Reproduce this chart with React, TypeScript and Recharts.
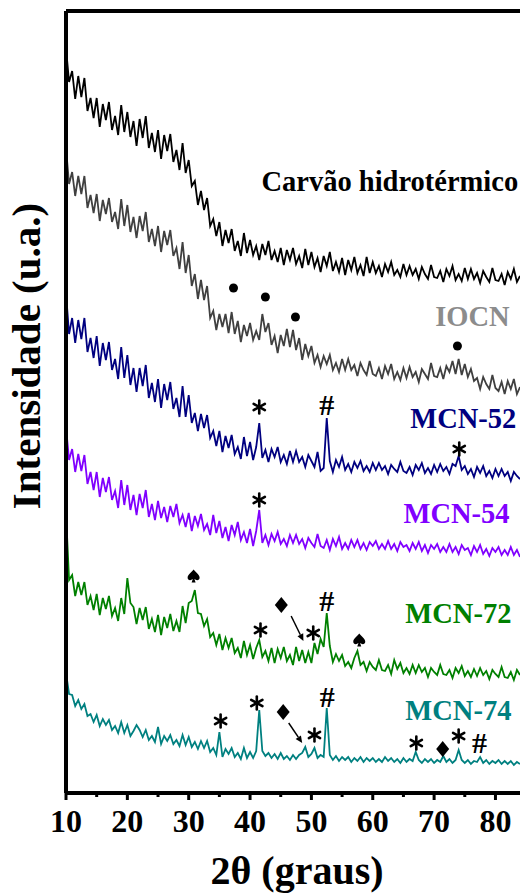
import React from 'react'
import { LineChart, Line, XAxis, YAxis, ReferenceDot, ReferenceLine, Label } from 'recharts'

// 2θ sampling (graus)
const angles = [
  10, 10.5, 11, 11.5, 12, 12.5, 13, 13.5, 14, 14.5,
  15, 15.5, 16, 16.5, 17, 17.5, 18, 18.5, 19, 19.5,
  20, 20.5, 21, 21.5, 22, 22.5, 23, 23.5, 24, 24.5,
  25, 25.5, 26, 26.5, 27, 27.5, 28, 28.5, 29, 29.5,
  30, 30.5, 31, 31.5, 32, 32.5, 33, 33.5, 34, 34.5,
  35, 35.5, 36, 36.5, 37, 37.5, 38, 38.5, 39, 39.5,
  40, 40.5, 41, 41.5, 42, 42.5, 43, 43.5, 44, 44.5,
  45, 45.5, 46, 46.5, 47, 47.5, 48, 48.5, 49, 49.5,
  50, 50.5, 51, 51.5, 52, 52.5, 53, 53.5, 54, 54.5,
  55, 55.5, 56, 56.5, 57, 57.5, 58, 58.5, 59, 59.5,
  60, 60.5, 61, 61.5, 62, 62.5, 63, 63.5, 64, 64.5,
  65, 65.5, 66, 66.5, 67, 67.5, 68, 68.5, 69, 69.5,
  70, 70.5, 71, 71.5, 72, 72.5, 73, 73.5, 74, 74.5,
  75, 75.5, 76, 76.5, 77, 77.5, 78, 78.5, 79, 79.5,
  80, 80.5, 81, 81.5, 82, 82.5, 83, 83.5, 84,
]

// stacked intensities (u.a.)
const carvao = [
  745, 711, 722, 694, 717, 696, 715, 682, 695, 675,
  695, 666, 689, 673, 691, 663, 677, 658, 688, 661,
  681, 656, 672, 647, 674, 655, 677, 645, 660, 641,
  663, 634, 658, 642, 659, 631, 643, 623, 650, 620,
  633, 607, 612, 588, 602, 583, 595, 567, 574, 557,
  571, 547, 563, 550, 564, 542, 552, 537, 560, 540,
  553, 538, 547, 533, 549, 538, 552, 533, 542, 531,
  545, 528, 543, 533, 545, 529, 537, 525, 544, 528,
  541, 526, 535, 521, 537, 527, 541, 522, 531, 521,
  535, 518, 533, 523, 536, 520, 528, 517, 536, 520,
  531, 520, 527, 516, 529, 521, 531, 518, 523, 516,
  529, 518, 527, 518, 524, 514, 526, 519, 514, 528,
  516, 515, 522, 511, 524, 517, 527, 513, 519, 512,
  525, 514, 524, 514, 520, 510, 522, 516, 511, 525,
  513, 512, 519, 508, 521, 514, 524, 511, 517,
]

const iocn = [
  645, 609, 621, 597, 617, 599, 617, 585, 598, 580,
  599, 572, 593, 579, 595, 571, 581, 564, 594, 567,
  588, 561, 576, 555, 577, 562, 581, 551, 564, 547,
  567, 541, 562, 548, 563, 537, 545, 524, 551, 520,
  538, 507, 519, 494, 513, 493, 507, 475, 482, 463,
  479, 466, 479, 460, 481, 459, 472, 451, 468, 457,
  470, 453, 462, 453, 479, 461, 470, 448, 457, 440,
  458, 447, 464, 446, 463, 443, 455, 433, 449, 437,
  447, 430, 438, 426, 437, 429, 438, 423, 430, 421,
  434, 423, 434, 423, 428, 417, 430, 423, 418, 432,
  419, 417, 425, 414, 427, 419, 429, 414, 421, 413,
  425, 415, 426, 416, 421, 411, 424, 419, 414, 430,
  417, 416, 425, 414, 427, 421, 432, 419, 434, 418,
  429, 416, 424, 412, 415, 404, 416, 409, 404, 418,
  405, 402, 411, 399, 412, 404, 414, 399, 406,
]

const mcn52 = [
  500, 459, 475, 450, 473, 454, 475, 441, 455, 435,
  457, 427, 450, 433, 451, 423, 434, 414, 446, 415,
  438, 408, 425, 401, 425, 407, 428, 395, 410, 391,
  414, 385, 409, 393, 411, 384, 395, 376, 407, 376,
  398, 370, 380, 362, 379, 365, 378, 355, 362, 347,
  362, 341, 357, 345, 358, 339, 346, 334, 356, 337,
  351, 333, 346, 370, 335, 343, 331, 344, 336, 346,
  331, 338, 329, 342, 331, 342, 331, 336, 326, 338,
  332, 326, 341, 322, 325, 375, 332, 321, 333, 326,
  336, 323, 329, 321, 331, 325, 332, 322, 327, 321,
  330, 323, 330, 323, 327, 319, 328, 324, 321, 331,
  322, 320, 326, 318, 328, 323, 330, 320, 325, 319,
  328, 321, 329, 322, 326, 319, 329, 327, 337, 323,
  327, 319, 324, 316, 326, 320, 327, 317, 322, 315,
  324, 317, 324, 317, 321, 312, 321, 317, 314,
]

const mcn54 = [
  366, 333, 344, 321, 339, 322, 338, 309, 321, 303,
  321, 296, 315, 301, 316, 293, 302, 285, 313, 288,
  308, 283, 298, 278, 299, 285, 303, 276, 289, 273,
  292, 275, 286, 271, 287, 276, 289, 270, 278, 266,
  280, 262, 277, 267, 279, 263, 269, 258, 278, 260,
  272, 255, 266, 252, 268, 258, 271, 253, 261, 250,
  264, 247, 262, 283, 250, 258, 248, 259, 252, 261,
  249, 254, 247, 258, 250, 258, 249, 254, 245, 255,
  250, 246, 259, 247, 245, 253, 243, 254, 247, 256,
  244, 250, 244, 253, 246, 253, 244, 250, 243, 251,
  247, 252, 244, 249, 244, 252, 244, 249, 242, 251,
  246, 248, 242, 250, 244, 251, 242, 248, 240, 248,
  244, 249, 241, 246, 241, 249, 241, 246, 239, 248,
  243, 245, 238, 247, 241, 248, 239, 244, 237, 245,
  241, 246, 238, 243, 238, 246, 238, 243, 236,
]

const mcn72 = [
  280, 213, 218, 197, 211, 198, 211, 188, 197, 183,
  199, 178, 195, 184, 197, 177, 185, 172, 195, 179,
  215, 190, 186, 169, 185, 173, 186, 164, 174, 161,
  178, 158, 176, 165, 179, 162, 172, 161, 187, 170,
  190, 192, 203, 180, 179, 167, 174, 156, 160, 148,
  159, 143, 155, 145, 155, 140, 145, 135, 152, 138,
  148, 134, 145, 153, 136, 142, 132, 145, 130, 144,
  135, 146, 132, 138, 128, 146, 132, 143, 130, 141,
  130, 150, 139, 154, 146, 180, 147, 131, 139, 132,
  138, 127, 131, 125, 135, 142, 128, 131, 122, 131,
  126, 123, 133, 123, 122, 128, 119, 133, 124, 130,
  120, 125, 119, 128, 120, 128, 121, 125, 116, 125,
  121, 118, 128, 119, 118, 123, 115, 125, 120, 127,
  117, 122, 116, 124, 117, 125, 118, 122, 114, 123,
  119, 116, 126, 116, 115, 121, 113, 123, 118,
]

const mcn74 = [
  120, 99, 98, 87, 93, 84, 89, 77, 79, 71,
  78, 67, 74, 68, 73, 63, 67, 60, 71, 60,
  68, 57, 62, 68, 63, 56, 63, 53, 57, 51,
  66, 49, 57, 52, 58, 49, 53, 47, 58, 48,
  56, 46, 51, 44, 52, 45, 52, 41, 45, 38,
  61, 36, 44, 39, 45, 36, 40, 34, 45, 35,
  41, 35, 42, 83, 42, 37, 40, 35, 39, 34,
  40, 34, 37, 33, 38, 34, 38, 40, 46, 36,
  39, 45, 35, 38, 36, 85, 38, 33, 37, 32,
  36, 33, 36, 31, 35, 32, 36, 31, 35, 32,
  35, 31, 34, 31, 36, 32, 35, 31, 34, 30,
  35, 31, 34, 32, 41, 33, 30, 34, 31, 34,
  30, 33, 31, 37, 31, 34, 30, 33, 43, 33,
  30, 33, 29, 32, 31, 36, 30, 33, 29, 32,
  30, 33, 29, 32, 29, 32, 28, 31, 29,
]

const xTicks = [10, 15, 20, 25, 30, 35, 40, 45, 50, 55, 60, 65, 70, 75, 80]

const seriesKeys = ['carvao', 'iocn', 'mcn52', 'mcn54', 'mcn72', 'mcn74']
const seriesNames = ['Carvão hidrotérmico', 'IOCN', 'MCN-52', 'MCN-54', 'MCN-72', 'MCN-74']
const lineColors = ['#000000', '#404040', '#000080', '#8000ff', '#008000', '#008080']
const nameColors = ['#000000', '#8c8c8c', '#000080', '#8000ff', '#008000', '#008080']
// where each name sits (right end, baseline) in chart units
const nameAnchors = [[83.7, 602], [82.3, 467], [83.4, 365], [82.3, 270], [82.6, 170], [82.6, 73]]

// phase markers: ● , *, #, ♦, ♠
const dotMarks = [[37.3, 505], [42.5, 496], [47.4, 476], [73.8, 447]]
const symbolMarks: [number, number, string][] = [
  [41.5, 386, '*'], [52.5, 388, '#'], [74.1, 344, '*'],
  [41.5, 293, '*'],
  [30.8, 217, '♠'], [41.7, 163, '*'], [45.1, 188, '♦'], [50.3, 160, '*'], [52.5, 192, '#'], [57.8, 153, '♠'],
  [35.2, 72, '*'], [41.1, 90, '*'], [45.4, 81, '♦'], [50.5, 58, '*'], [52.6, 96, '#'],
  [67.1, 50, '*'], [71.4, 44, '♦'], [74.0, 57, '*'], [77.4, 50, '#'],
]
const arrowMarks = [[46.7, 177, 48.7, 152], [46.3, 70, 48.5, 50]]

const series = [carvao, iocn, mcn52, mcn54, mcn72, mcn74]
const data = angles.map((x, i) => {
  const row: Record<string, number> = { x }
  seriesKeys.forEach((k, j) => { row[k] = series[j][i] })
  return row
})

const serif = '"Liberation Serif", "Times New Roman", serif'

const AxisTick = (props: any) => {
  const { x, y, payload } = props
  const v = payload.value
  const major = v % 10 === 0
  return (
    <g>
      <line x1={x} x2={x} y1={y} y2={y + (major ? 7 : 4)} stroke="#000" strokeWidth={3} />
      {major && (
        <text x={x} y={y + 39} textAnchor="middle" fontFamily={serif} fontWeight="bold" fontSize={32} fill="#000">
          {v}
        </text>
      )}
    </g>
  )
}

const Marker = ({ cx, cy, s }: { cx: number; cy: number; s: string }) => {
  if (s === '*') {
    return (
      <g stroke="#000" strokeWidth={2.6} strokeLinecap="round">
        <line x1={cx} y1={cy - 6.5} x2={cx} y2={cy + 6.5} />
        <line x1={cx - 5.6} y1={cy - 3.2} x2={cx + 5.6} y2={cy + 3.2} />
        <line x1={cx - 5.6} y1={cy + 3.2} x2={cx + 5.6} y2={cy - 3.2} />
      </g>
    )
  }
  if (s === '♦') {
    return <polygon points={`${cx},${cy - 8} ${cx + 6.5},${cy} ${cx},${cy + 8} ${cx - 6.5},${cy}`} fill="#000" />
  }
  if (s === '♠') {
    const d = `M${cx},${cy - 6.5} C${cx + 2},${cy - 3.5} ${cx + 6},${cy - 1.5} ${cx + 6},${cy + 1.8} ` +
      `C${cx + 6},${cy + 4.2} ${cx + 3},${cy + 5} ${cx + 0.8},${cy + 3} L${cx + 2},${cy + 6.5} L${cx - 2},${cy + 6.5} ` +
      `L${cx - 0.8},${cy + 3} C${cx - 3},${cy + 5} ${cx - 6},${cy + 4.2} ${cx - 6},${cy + 1.8} ` +
      `C${cx - 6},${cy - 1.5} ${cx - 2},${cy - 3.5} ${cx},${cy - 6.5} Z`
    return <path d={d} fill="#000" />
  }
  return (
    <text x={cx} y={cy + 10} textAnchor="middle" fontFamily={serif} fontWeight="bold" fontSize={30} fill="#000">
      {s}
    </text>
  )
}

const Arrow = (p: any) => {
  const { x1, y1, x2, y2 } = p
  const a = Math.atan2(y2 - y1, x2 - x1)
  const L = 7
  const W = 3.2
  const bx = x2 - L * Math.cos(a)
  const by = y2 - L * Math.sin(a)
  const px = -Math.sin(a) * W
  const py = Math.cos(a) * W
  return (
    <g>
      <line x1={x1} y1={y1} x2={bx} y2={by} stroke="#000" strokeWidth={1.5} />
      <polygon points={`${x2},${y2} ${bx + px},${by + py} ${bx - px},${by - py}`} fill="#000" />
    </g>
  )
}

export default function App() {
  return (
    <div style={{ position: 'fixed', left: 0, top: 0, width: 520, height: 895, overflow: 'hidden', background: '#fff' }}>
      <LineChart width={520} height={895} data={data} margin={{ top: 10, right: 0, left: 65, bottom: 72 }}>
        <XAxis
          dataKey="x"
          type="number"
          domain={[10, 84]}
          ticks={xTicks}
          interval={0}
          tick={<AxisTick />}
          tickLine={false}
          tickSize={0}
          tickMargin={0}
          height={30}
          axisLine={{ stroke: '#000', strokeWidth: 4 }}
        >
          <Label
            content={() => (
              <text x={297} y={884} textAnchor="middle" fontFamily={serif} fontWeight="bold" fontSize={40} fill="#000">
                2θ (graus)
              </text>
            )}
          />
        </XAxis>
        <XAxis
          xAxisId="top"
          orientation="top"
          dataKey="x"
          type="number"
          domain={[10, 84]}
          tick={false}
          tickLine={false}
          height={1}
          axisLine={{ stroke: '#000', strokeWidth: 4 }}
        />
        <YAxis
          type="number"
          domain={[0, 782]}
          allowDataOverflow
          width={1}
          tick={false}
          tickLine={false}
          axisLine={{ stroke: '#000', strokeWidth: 4 }}
        >
          <Label
            content={() => (
              <text
                transform="translate(40, 356) rotate(-90)"
                textAnchor="middle"
                fontFamily={serif}
                fontWeight="bold"
                fontSize={41}
                fill="#000"
              >
                Intensidade (u.a.)
              </text>
            )}
          />
        </YAxis>

        {seriesKeys.map((k, i) => (
          <Line
            key={k}
            dataKey={k}
            type="linear"
            stroke={lineColors[i]}
            strokeWidth={1.8}
            strokeLinejoin="miter"
            dot={false}
            activeDot={false}
            isAnimationActive={false}
          />
        ))}

        {dotMarks.map(([x, y], i) => (
          <ReferenceDot key={`d${i}`} x={x} y={y} r={4.5} fill="#000" stroke="none" ifOverflow="visible" />
        ))}
        {symbolMarks.map(([x, y, s], i) => (
          <ReferenceDot
            key={`s${i}`}
            x={x}
            y={y}
            r={0}
            ifOverflow="visible"
            shape={(p: any) => <Marker cx={p.cx} cy={p.cy} s={s} />}
          />
        ))}
        {arrowMarks.map(([a, b, c, d], i) => (
          <ReferenceLine
            key={`a${i}`}
            segment={[{ x: a, y: b }, { x: c, y: d }]}
            ifOverflow="visible"
            shape={(p: any) => <Arrow {...p} />}
          />
        ))}
        {seriesNames.map((name, i) => (
          <ReferenceDot
            key={`n${i}`}
            x={nameAnchors[i][0]}
            y={nameAnchors[i][1]}
            r={0}
            ifOverflow="visible"
            shape={(p: any) => (
              <text x={p.cx} y={p.cy} textAnchor="end" fontFamily={serif} fontWeight="bold" fontSize={28.5} fill={nameColors[i]}>
                {name}
              </text>
            )}
          />
        ))}
      </LineChart>
    </div>
  )
}
